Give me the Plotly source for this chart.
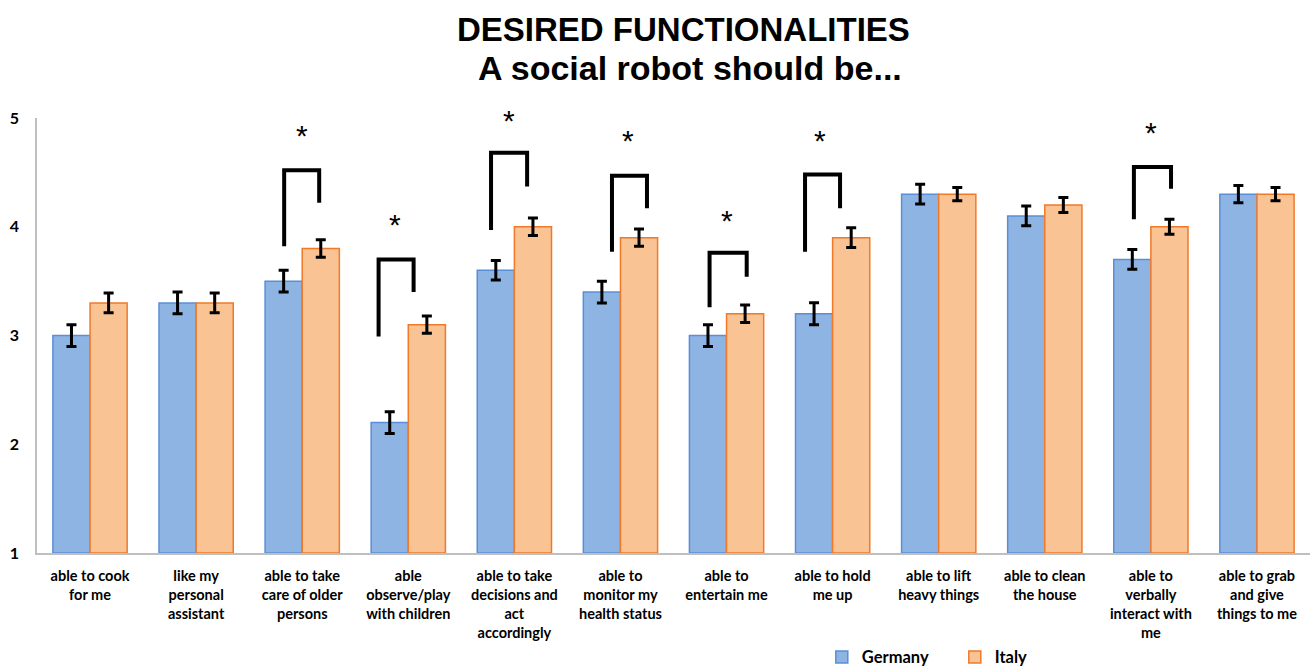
import plotly.graph_objects as go

categories = [
    "able to cook<br>for me",
    "like my<br>personal<br>assistant",
    "able to take<br>care of older<br>persons",
    "able<br>observe/play<br>with children",
    "able to take<br>decisions and<br>act<br>accordingly",
    "able to<br>monitor my<br>health status",
    "able to<br>entertain me",
    "able to hold<br>me up",
    "able to lift<br>heavy things",
    "able to clean<br>the house",
    "able to<br>verbally<br>interact with<br>me",
    "able to grab<br>and give<br>things to me",
]
germany = [3.0, 3.3, 3.5, 2.2, 3.6, 3.4, 3.0, 3.2, 4.3, 4.1, 3.7, 4.3]
italy = [3.3, 3.3, 3.8, 3.1, 4.0, 3.9, 3.2, 3.9, 4.3, 4.2, 4.0, 4.3]
germany_err = [0.10, 0.10, 0.10, 0.10, 0.09, 0.10, 0.10, 0.10, 0.09, 0.09, 0.09, 0.08]
italy_err = [0.09, 0.09, 0.08, 0.08, 0.08, 0.08, 0.08, 0.09, 0.06, 0.07, 0.07, 0.06]
y_ticks = [1, 2, 3, 4, 5]

# significance brackets (hand-placed in the original): x in category units, y in score units
sig_x_left = [1.83, 2.72, 3.78, 4.92, 5.84, 6.74, 9.84]
sig_x_right = [2.16, 3.05, 4.12, 5.25, 6.19, 7.07, 10.19]
sig_left_bottom = [3.82, 2.99, 3.97, 3.77, 3.26, 3.77, 4.07]
sig_top = [4.52, 3.70, 4.68, 4.47, 3.76, 4.48, 4.55]
sig_right_bottom = [4.22, 3.40, 4.37, 4.17, 3.54, 4.17, 4.35]
sig_star_x = [2.0, 2.87, 3.95, 5.07, 6.0, 6.88, 10.0]
sig_star_y = [4.84, 4.02, 4.98, 4.79, 4.06, 4.79, 4.87]

xs = list(range(len(categories)))
BARGAP = 0.3
LABEL_FONT = "Lato"

fig = go.Figure()
fig.add_trace(go.Bar(
    x=xs, y=[v - 1 for v in germany], base=1, name="<b>Germany</b>",
    marker=dict(color="#8EB4E3", line=dict(color="#5B8ED8", width=1.5)),
    error_y=dict(type="data", array=germany_err, color="black", thickness=3, width=5),
))
fig.add_trace(go.Bar(
    x=xs, y=[v - 1 for v in italy], base=1, name="<b>Italy</b>",
    marker=dict(color="#F9C393", line=dict(color="#F07A2A", width=1.5)),
    error_y=dict(type="data", array=italy_err, color="black", thickness=3, width=5),
))

for xl, xr, lb, tp, rb, sx, sy in zip(sig_x_left, sig_x_right, sig_left_bottom, sig_top,
                                      sig_right_bottom, sig_star_x, sig_star_y):
    fig.add_trace(go.Scatter(
        x=[xl, xl, xr, xr], y=[lb, tp, tp, rb], mode="lines",
        line=dict(color="black", width=4), showlegend=False, hoverinfo="skip",
    ))
    fig.add_annotation(x=sx, y=sy, text="*", showarrow=False,
                       font=dict(family="Liberation Sans", size=30, color="black"),
                       xref="x", yref="y")

fig.add_annotation(text="<b>DESIRED FUNCTIONALITIES</b>", xref="paper", yref="paper",
                   x=0.508, y=1.2023, showarrow=False, yanchor="middle",
                   font=dict(family="Liberation Sans", size=33, color="black"))
fig.add_annotation(text="<b>A social robot should be...</b>", xref="paper", yref="paper",
                   x=0.513, y=1.115, showarrow=False, yanchor="middle",
                   font=dict(family="Liberation Sans", size=34, color="black"))

fig.update_layout(
    width=1314, height=672,
    margin=dict(l=37, r=4, t=118, b=119, autoexpand=False),
    paper_bgcolor="white", plot_bgcolor="white",
    barmode="group", bargap=BARGAP, bargroupgap=0,
    font=dict(family=LABEL_FONT, color="black"),
    showlegend=True,
    legend=dict(orientation="h", x=0.6165, y=-0.2395, xanchor="left", yanchor="middle",
                font=dict(family=LABEL_FONT, size=16.5, color="black"),
                itemwidth=30, tracegroupgap=0, entrywidth=88),
    xaxis=dict(
        tickmode="array", tickvals=xs, ticktext=[f"<b>{c}</b>" for c in categories],
        range=[-0.5, len(categories) - 0.5], showgrid=False, zeroline=False,
        showline=True, linecolor="#BFBFBF", linewidth=1.5, ticks="", automargin=False,
        tickfont=dict(family=LABEL_FONT, size=14.5, color="black"), tickangle=0,
        ticklabelstandoff=9,
    ),
    yaxis=dict(
        range=[1, 5], tickvals=y_ticks, ticktext=[f"<b>{t}</b>" for t in y_ticks],
        showgrid=False, zeroline=False, showline=True, linecolor="#BFBFBF", linewidth=1.5,
        ticks="", automargin=False, tickfont=dict(family=LABEL_FONT, size=16, color="black"),
        ticklabelstandoff=13,
    ),
)

fig.write_html("out.html", config={"displayModeBar": False},
               post_script="document.body.style.margin='0';")
